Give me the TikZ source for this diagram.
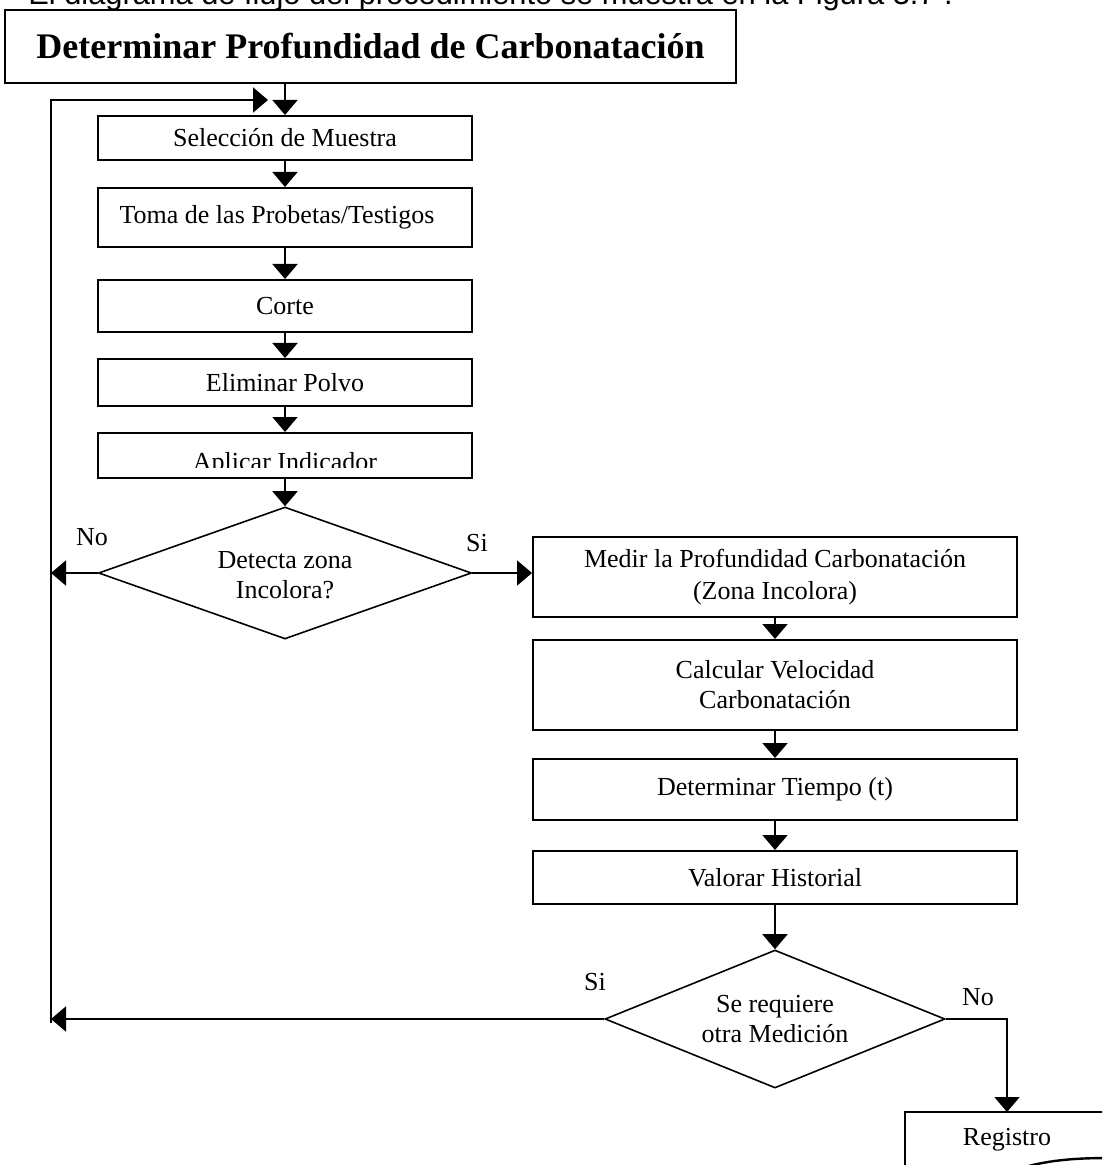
\documentclass[tikz,border=0pt]{standalone}
\usepackage{fontspec}
\setmainfont{Liberation Serif}
\newfontfamily\textsans{Liberation Sans}
\usetikzlibrary{arrows.meta,shapes.geometric}

\begin{document}
\begin{tikzpicture}[x=0.5pt,y=-0.5pt,
    caja/.style={draw,line width=1pt,inner sep=0pt,align=center,minimum width=187pt},
    rombo/.style={draw,diamond,line width=0.8pt,inner sep=0pt,align=center},
    flecha/.style={line width=1pt,-{Triangle[length=7.5pt,width=12.5pt]}},
    texto/.style={font=\fontsize{13}{15}\selectfont}]
  \useasboundingbox (0,0) rectangle (1102,1165);
  \clip (0,0) rectangle (1102,1165);

  \node [anchor=base west,inner sep=0pt,font=\textsans\fontsize{15.4}{18}\selectfont] (intro) at (28,5)
    {El diagrama de flujo del procedimiento se muestra en la Figura 3.7 .};

  \node [caja,minimum width=365.5pt,minimum height=36.5pt,font=\fontsize{18}{21}\selectfont\bfseries]
    (titulo) at (370.5,46.5) {Determinar Profundidad de Carbonatación};

  % columna izquierda
  \node [caja,texto,minimum height=22pt] (sel) at (285,138) {Selección de Muestra};
  \node [caja,texto,minimum height=29.5pt] (toma) at (285,217.5) {Toma de las Probetas/Testigos\hspace{8pt}};
  \node [caja,texto,minimum height=26pt] (corte) at (285,306) {Corte};
  \node [caja,texto,minimum height=23.5pt] (polvo) at (285,382.5) {Eliminar Polvo};
  \node [caja,minimum height=22.5pt] (aplicar) at (285,455.5) {};
  \begin{scope}
    \clip (97,433) rectangle (472,467);
    \node [texto,anchor=base] (aplicartxt) at (285,470) {Aplicar Indicador};
  \end{scope}

  \node [rombo,texto,aspect=2.83,minimum width=186.5pt,minimum height=66pt] (d1) at (285,573)
    {\\[-4pt]Detecta zona\\Incolora?};

  % columna derecha
  \node [caja,texto,minimum width=242pt,minimum height=40pt] (medir) at (775,577)
    {Medir la Profundidad Carbonatación\\[1pt](Zona Incolora)};
  \node [caja,texto,minimum width=242pt,minimum height=45pt] (calc) at (775,685)
    {Calcular Velocidad\\Carbonatación};
  \node [caja,texto,minimum width=242pt,minimum height=30.5pt] (tiempo) at (775,789.5) {Determinar Tiempo (t)};
  \node [caja,texto,minimum width=242pt,minimum height=26.5pt] (valorar) at (775,877.5) {Valorar Historial};

  \node [rombo,texto,aspect=2.46,minimum width=170pt,minimum height=69pt] (d2) at (775,1019)
    {Se requiere\\otra Medición};

  % registro (documento)
  \draw [line width=1pt] (905,1175) -- (905,1112) -- (1110,1112);
  \draw [line width=1.2pt] (1015,1170) .. controls (1045,1160) and (1075,1158) .. (1110,1158);
  \node [texto] (reg) at (1007,1140) {Registro};
  \coordinate (regtop) at (1007,1112);

  \node [texto] (no1) at (92,537) {No};
  \node [texto] (si1) at (477,543) {Si};
  \node [texto] (si2) at (595,982) {Si};
  \node [texto] (no2) at (978,997) {No};

  \draw [flecha] (titulo.south -| sel.north) -- (sel.north);
  \draw [flecha] (sel.south) -- (toma.north);
  \draw [flecha] (toma.south) -- (corte.north);
  \draw [flecha] (corte.south) -- (polvo.north);
  \draw [flecha] (polvo.south) -- (aplicar.north);
  \draw [flecha] (aplicar.south) -- (d1.north);

  \draw [flecha] (d1.east) -- (medir.west |- d1.east);
  \draw [flecha] (medir.south) -- (calc.north);
  \draw [flecha] (calc.south) -- (tiempo.north);
  \draw [flecha] (tiempo.south) -- (valorar.north);
  \draw [flecha] (valorar.south) -- (d2.north);
  \draw [flecha] (d2.east) -| (regtop);

  % lazo de retorno
  \coordinate (lazo0) at (51,1023);
  \coordinate (lazo1) at (51,100);
  \coordinate (lazo2) at (268,100);
  \draw [flecha] (lazo0) -- (lazo1) -- (lazo2);
  \draw [flecha] (d1.west) -- (d1.west -| lazo1);
  \draw [flecha] (d2.west) -- (d2.west -| lazo1);
\end{tikzpicture}
\end{document}
